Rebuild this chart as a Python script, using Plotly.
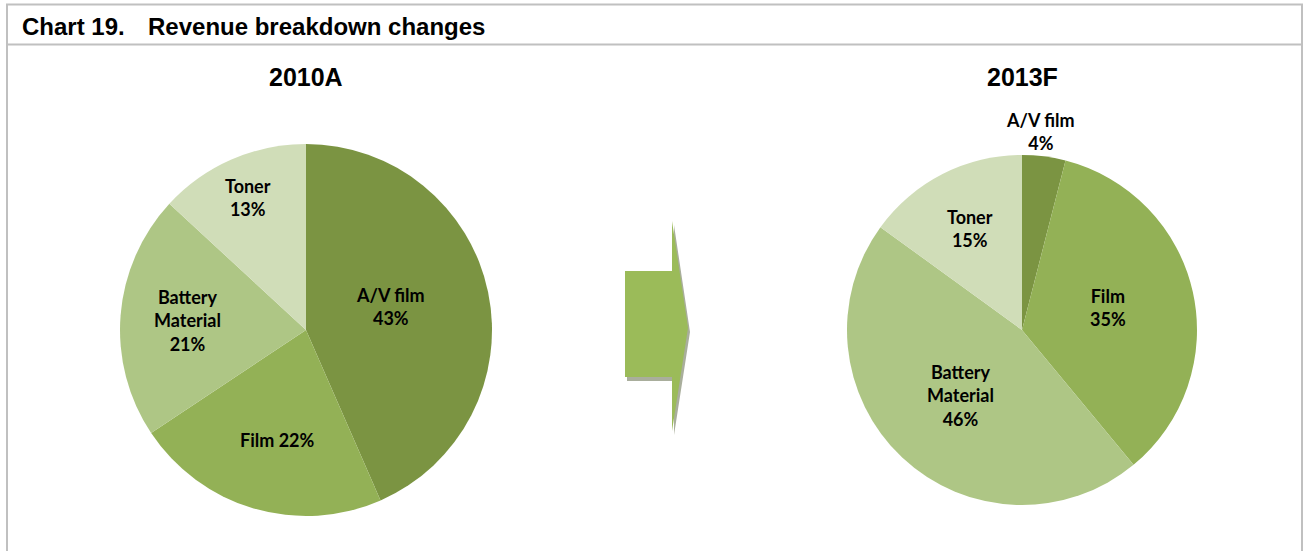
import math
import plotly.graph_objects as go

W, H = 1304, 551

# Revenue shares (%) by segment, clockwise from 12 o'clock
segments = ["A/V film", "Film", "Battery Material", "Toner"]
share_2010A = [43, 22, 21, 13]
share_2013F = [4, 35, 46, 15]

# Label text: segment names as wrapped on the chart, and the joiner before the %
label_names = ["A/V film", "Film", "Battery<br>Material", "Toner"]
joiner_2010A = ["<br>", " ", "<br>", "<br>"]
joiner_2013F = ["<br>", "<br>", "<br>", "<br>"]

colors = ["#7b9442", "#93b156", "#aec685", "#d0ddb8"]

# pie geometry in pixels: centre x, centre y, radius, radial label position (fraction of r),
# and a small angular nudge (degrees) for the labels
pies = [
    dict(title="2010A", values=share_2010A, joiner=joiner_2010A,
         cx=306, cy=330, r=186, lab_r=[0.47, 0.61, 0.64, 0.78], nudge=[-4, -2, 0, 0]),
    dict(title="2013F", values=share_2013F, joiner=joiner_2013F,
         cx=1022, cy=330, r=175, lab_r=[1.14, 0.51, 0.51, 0.65], nudge=[-2, -2, 0, 0]),
]

LABEL_FONT = dict(family="Lato, 'Open Sans', sans-serif", size=18, color="#000000")
TITLE_FONT = dict(family="Liberation Sans, Arial, sans-serif", size=25, color="#000000")
HEAD_FONT = dict(family="Liberation Sans, Arial, sans-serif", size=24, color="#000000")

fig = go.Figure()
annotations = []

for p in pies:
    cx, cy, r = p["cx"], p["cy"], p["r"]
    fig.add_trace(go.Pie(
        labels=segments,
        values=p["values"],
        sort=False,
        direction="clockwise",
        rotation=0,
        marker=dict(colors=colors, line=dict(width=0)),
        textinfo="none",
        hoverinfo="label+percent",
        showlegend=False,
        domain=dict(x=[(cx - r) / W, (cx + r) / W],
                    y=[1 - (cy + r) / H, 1 - (cy - r) / H]),
    ))
    total = sum(p["values"])
    start = 0.0
    for name, val, sep, frac, nd in zip(label_names, p["values"], p["joiner"], p["lab_r"], p["nudge"]):
        sweep = 360.0 * val / total
        mid = math.radians(start + sweep / 2 + nd)
        start += sweep
        annotations.append(dict(
            x=cx + frac * r * math.sin(mid), y=cy - frac * r * math.cos(mid),
            xref="x", yref="y", text=f"<b>{name}{sep}{val}%</b>",
            showarrow=False, font=LABEL_FONT, xanchor="center", yanchor="middle",
            align="center",
        ))
    annotations.append(dict(
        x=cx, y=77, xref="x", yref="y", text=f"<b>{p['title']}</b>",
        showarrow=False, font=TITLE_FONT, xanchor="center", yanchor="middle",
    ))

# header text
annotations.append(dict(x=20, y=26, xref="x", yref="y", text="<b>Chart 19.</b>",
                        showarrow=False, xanchor="left", yanchor="middle", font=HEAD_FONT))
annotations.append(dict(x=146, y=26, xref="x", yref="y", text="<b>Revenue breakdown changes</b>",
                        showarrow=False, xanchor="left", yanchor="middle", font=HEAD_FONT))

BORDER = "#c0c0c0"
shapes = [
    dict(type="line", xref="x", yref="y", x0=6, x1=1303, y0=4.5, y1=4.5, line=dict(color=BORDER, width=2)),
    dict(type="line", xref="x", yref="y", x0=6, x1=1303, y0=44.5, y1=44.5, line=dict(color=BORDER, width=2)),
    dict(type="line", xref="x", yref="y", x0=7, x1=7, y0=4, y1=H, line=dict(color=BORDER, width=2)),
    dict(type="line", xref="x", yref="y", x0=1302, x1=1302, y0=4, y1=H, line=dict(color=BORDER, width=2)),
]

# block arrow between the two pies, with a soft drop shadow
arrow = [(625, 271), (672, 271), (672, 221), (688, 328), (672, 431), (672, 377), (625, 377)]


def arrow_path(dx, dy):
    pts = [f"{x + dx},{y + dy}" for x, y in arrow]
    return "M " + " L ".join(pts) + " Z"


shapes.append(dict(type="path", xref="x", yref="y", path=arrow_path(2, 4),
                   fillcolor="#a9ae9c", line=dict(width=0), layer="below"))
shapes.append(dict(type="path", xref="x", yref="y", path=arrow_path(0, 0),
                   fillcolor="#9bbb59", line=dict(width=0), layer="below"))

fig.update_layout(
    width=W, height=H,
    margin=dict(l=0, r=0, t=0, b=0),
    paper_bgcolor="#ffffff", plot_bgcolor="rgba(0,0,0,0)",
    xaxis=dict(range=[0, W], visible=False, fixedrange=True, domain=[0, 1]),
    yaxis=dict(range=[H, 0], visible=False, fixedrange=True, domain=[0, 1]),
    annotations=annotations,
    shapes=shapes,
)

fig.write_html("out.html")
